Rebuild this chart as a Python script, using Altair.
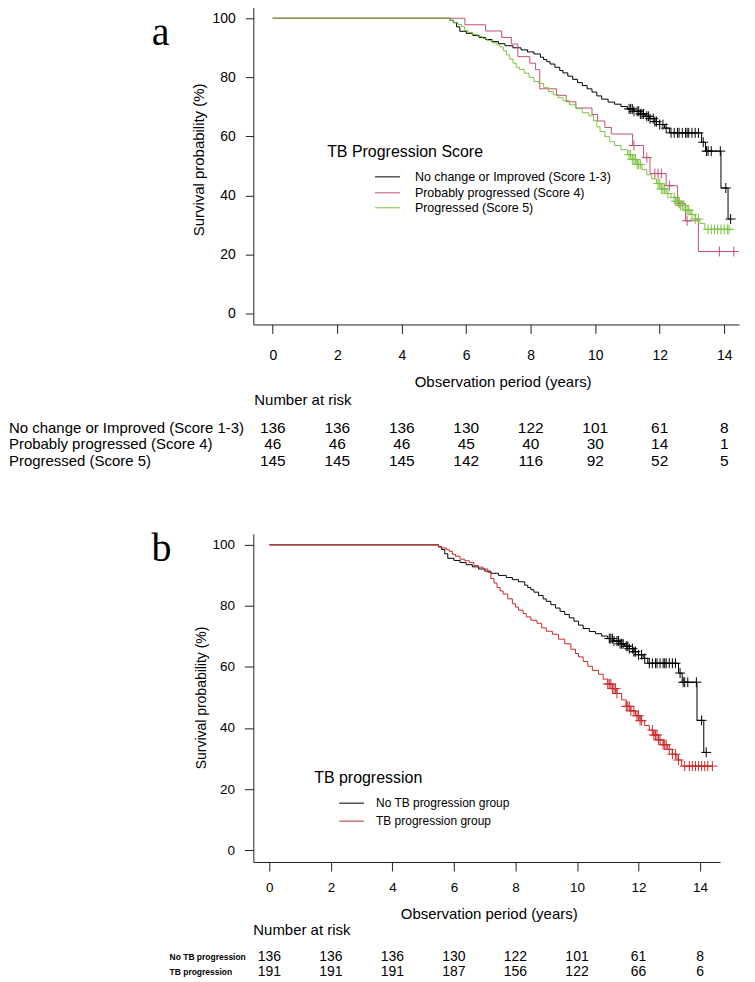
import altair as alt
import pandas as pd

FONT = "Liberation Sans"
SERIF = "Liberation Serif"

TIMES = [0, 2, 4, 6, 8, 10, 12, 14]
Y_TICKS = [0, 20, 40, 60, 80, 100]

GROUPS_A = ["No change or Improved (Score 1-3)", "Probably progressed (Score 4)", "Progressed (Score 5)"]
COLORS_A = ["#000000", "#C4506E", "#7CC243"]
GROUPS_B = ["No TB progression group", "TB progression group"]
COLORS_B = ["#000000", "#CC2B2B"]

# ---- Kaplan-Meier step curves (time in years, survival %) ----
BLACK_T = [0, 5.5, 5.6, 5.7, 5.8, 6.0, 6.2, 6.4, 6.6, 6.8, 7.0, 7.2, 7.45, 7.7, 7.9, 8.1, 8.3, 8.4, 8.5, 8.6,
           8.75, 8.9, 9.0, 9.15, 9.3, 9.45, 9.6, 9.75, 9.9, 10.05, 10.2, 10.4, 10.6, 10.8, 11.0, 11.2, 11.4,
           11.55, 11.7, 11.85, 12.0, 12.15, 12.3, 13.3, 13.42, 13.9, 14.12, 14.2]
BLACK_S = [100, 99.3, 98.5, 97.1, 95.6, 94.9, 94.2, 93.5, 92.8, 92.1, 91.4, 90.7, 90.0, 89.3, 88.6, 87.9, 86.8,
           86.0, 85.3, 84.5, 83.4, 82.3, 81.5, 80.4, 79.3, 78.2, 77.2, 76.1, 75.0, 73.7, 72.6, 71.6, 70.9, 70.1,
           69.3, 68.5, 67.6, 66.8, 66.0, 65.0, 64.0, 62.8, 61.2, 58.0, 55.0, 42.5, 32.0, 32.0]
BLACK_CENSOR = [11.05, 11.1, 11.15, 11.2, 11.3, 11.35, 11.4, 11.45, 11.5, 11.6, 11.65, 11.7, 11.8, 11.85, 11.9,
                12.0, 12.1, 12.2, 12.35, 12.45, 12.55, 12.6, 12.7, 12.8, 12.85, 12.9, 13.0, 13.1, 13.2, 13.35,
                13.45, 13.5, 13.6, 13.88, 14.05, 14.2]

PINK_T = [0, 5.96, 6.6, 7.1, 7.4, 7.6, 7.97, 8.15, 8.28, 8.8, 9.1, 9.4, 9.9, 10.07, 10.3, 10.5, 11.16, 11.5,
          11.7, 12.2, 12.55, 12.8, 13.2, 14.3]
PINK_S = [100, 97.8, 95.7, 93.5, 91.3, 87.0, 84.8, 82.6, 76.1, 73.9, 71.7, 69.6, 67.4, 65.2, 63.0, 60.8, 56.9,
          52.8, 47.4, 43.3, 37.3, 31.4, 21.0, 21.0]
PINK_CENSOR = [11.2, 11.6, 11.85, 11.95, 12.05, 12.3, 12.6, 12.85, 13.85, 14.3]

GREEN_T = [0, 5.5, 5.6, 5.75, 5.85, 5.95, 6.05, 6.2, 6.35, 6.5, 6.65, 6.8, 6.95, 7.05, 7.15, 7.25, 7.35, 7.45,
           7.55, 7.65, 7.8, 7.95, 8.1, 8.25, 8.4, 8.55, 8.7, 8.85, 9.0, 9.2, 9.4, 9.6, 9.8, 9.95, 10.05, 10.15,
           10.3, 10.45, 10.6, 10.8, 11.0, 11.15, 11.3, 11.45, 11.6, 11.75, 11.9, 12.05, 12.2, 12.35, 12.5,
           12.65, 12.8, 12.95, 13.1, 13.25, 13.4, 14.15]
GREEN_S = [100, 99.3, 98.6, 97.9, 97.2, 95.9, 95.2, 94.5, 93.8, 93.1, 92.4, 91.7, 91.0, 90.3, 89.0, 87.6, 86.2,
           84.8, 83.4, 82.7, 81.4, 80.0, 78.6, 77.9, 76.5, 75.2, 74.1, 73.1, 72.1, 70.7, 69.4, 68.0, 67.0, 65.3,
           63.2, 61.6, 59.9, 58.2, 56.9, 55.5, 53.8, 52.2, 50.5, 48.8, 47.0, 45.6, 44.0, 42.2, 40.6, 39.3, 38.0,
           36.6, 35.0, 33.5, 32.0, 30.5, 28.5, 28.5]
GREEN_CENSOR = [11.05, 11.1, 11.15, 11.2, 11.25, 11.3, 11.35, 11.4, 11.95, 12.0, 12.05, 12.1, 12.15, 12.25,
                12.45, 12.5, 12.55, 12.6, 12.65, 12.7, 12.75, 12.85, 12.9, 13.0, 13.1, 13.2, 13.5, 13.6, 13.7,
                13.8, 13.9, 14.0, 14.1, 14.15]

RED_T = [0, 5.5, 5.6, 5.75, 5.85, 5.95, 6.05, 6.2, 6.35, 6.5, 6.65, 6.8, 6.95, 7.1, 7.2, 7.3, 7.4, 7.5, 7.6,
         7.75, 7.9, 8.0, 8.1, 8.25, 8.35, 8.5, 8.7, 8.85, 9.0, 9.2, 9.4, 9.6, 9.8, 9.95, 10.05, 10.2, 10.35,
         10.5, 10.7, 10.85, 11.0, 11.15, 11.3, 11.45, 11.6, 11.75, 11.9, 12.05, 12.2, 12.35, 12.5, 12.65, 12.8,
         12.95, 13.1, 13.25, 13.4, 14.4]
RED_S = [100, 99.5, 99.0, 98.4, 97.9, 96.9, 96.3, 95.3, 94.8, 94.2, 93.2, 92.7, 92.1, 91.0, 89.0, 87.5, 86.0,
         84.9, 83.9, 82.3, 80.7, 79.6, 78.6, 77.5, 76.4, 75.3, 74.3, 72.8, 71.7, 70.7, 69.1, 67.6, 65.8, 64.4,
         63.3, 61.8, 60.2, 58.9, 57.6, 56.0, 54.4, 52.9, 51.3, 49.2, 47.1, 45.6, 44.0, 42.4, 40.8, 39.3, 37.7,
         36.1, 34.5, 33.0, 31.4, 29.5, 27.5, 27.5]
RED_CENSOR = [11.0, 11.05, 11.1, 11.15, 11.2, 11.25, 11.3, 11.6, 11.65, 11.7, 11.75, 11.85, 11.95, 12.0, 12.05,
              12.1, 12.45, 12.5, 12.55, 12.6, 12.65, 12.7, 12.8, 12.85, 12.9, 13.0, 13.1, 13.2, 13.3, 13.5,
              13.65, 13.75, 13.85, 13.95, 14.05, 14.15, 14.25, 14.4]

# ---- Number at risk ----
RISK_LABELS_A = ["No change or Improved (Score 1-3)", "Probably progressed (Score 4)", "Progressed (Score 5)"]
RISK_A_NOCHANGE = [136, 136, 136, 130, 122, 101, 61, 8]
RISK_A_PROBABLY = [46, 46, 46, 45, 40, 30, 14, 1]
RISK_A_PROGRESSED = [145, 145, 145, 142, 116, 92, 52, 5]
RISK_LABELS_B = ["No TB progression", "TB progression"]
RISK_B_NO = [136, 136, 136, 130, 122, 101, 61, 8]
RISK_B_TB = [191, 191, 191, 187, 156, 122, 66, 6]


def step_value(ts, ss, c):
    v = ss[0]
    for t, s in zip(ts, ss):
        if t <= c:
            v = s
        else:
            break
    return v


def curve_df(ts, ss, name):
    return pd.DataFrame({"t": ts, "s": ss, "g": name})


def censor_df(ts, ss, cs, name):
    return pd.DataFrame({"t": cs, "s": [step_value(ts, ss, c) for c in cs], "g": name})


AX = dict(grid=False, labelFont=FONT, titleFont=FONT, labelColor="#000", titleColor="#000",
          titleFontWeight="normal", tickColor="#222", domainColor="#222", tickWidth=1, domainWidth=1,
          labelFlush=False, labelOverlap=False)

one = pd.DataFrame({"k": [0]})
PLUS = "M-1,0L1,0M0,-1L0,1"


def text_layer(txt, x, y, size, align="left", font=FONT, weight="normal", baseline="middle"):
    return alt.Chart(one).mark_text(text=txt, font=font, fontSize=size, fontWeight=weight, align=align,
                                    baseline=baseline, color="#000").encode(x=alt.value(x), y=alt.value(y))


def panel(curves, censors, groups, colors, xdom, ydom, w, h, xaxis, yaxis, letter, letter_xy,
          leg_title, leg_title_xy, leg_line_x, leg_rows_y, leg_text_x, leg_size, leg_title_size,
          nar_xy, nar_size, row_labels, row_values, rows_y, row_label_x, row_label_size, row_label_weight,
          value_size):
    x = alt.X("t:Q", scale=alt.Scale(domain=xdom, nice=False, zero=False), axis=xaxis)
    y = alt.Y("s:Q", scale=alt.Scale(domain=ydom, nice=False, zero=False), axis=yaxis)
    color = alt.Color("g:N", scale=alt.Scale(domain=groups, range=colors), legend=None)
    lines = alt.Chart(curves).mark_line(interpolate="step-after", strokeWidth=1).encode(x=x, y=y, color=color)
    marks = alt.Chart(censors).mark_point(shape=PLUS, filled=False, size=100, strokeWidth=1, opacity=1).encode(
        x=x, y=y, color=color)
    layers = [lines, marks]
    layers.append(text_layer(letter, letter_xy[0], letter_xy[1], 40, align="center", font=SERIF,
                             baseline="alphabetic"))
    layers.append(text_layer(leg_title, leg_title_xy[0], leg_title_xy[1], leg_title_size))
    for g, c, ry in zip(groups, colors, leg_rows_y):
        layers.append(alt.Chart(one).mark_rule(color=c, strokeWidth=1).encode(
            x=alt.value(leg_line_x[0]), x2=alt.value(leg_line_x[1]), y=alt.value(ry)))
        layers.append(text_layer(g, leg_text_x, ry, leg_size))
    layers.append(text_layer("Number at risk", nar_xy[0], nar_xy[1], nar_size))
    for lab, vals, ry in zip(row_labels, row_values, rows_y):
        layers.append(text_layer(lab, row_label_x, ry, row_label_size, weight=row_label_weight))
        df = pd.DataFrame({"t": TIMES, "n": vals})
        layers.append(alt.Chart(df).mark_text(font=FONT, fontSize=value_size, align="center",
                                              baseline="middle", color="#000").encode(
            x=x, y=alt.value(ry), text="n:Q"))
    return alt.layer(*layers).properties(width=w, height=h)


# ---------------- panel a ----------------
curves_a = pd.concat([curve_df(BLACK_T, BLACK_S, GROUPS_A[0]), curve_df(PINK_T, PINK_S, GROUPS_A[1]),
                      curve_df(GREEN_T, GREEN_S, GROUPS_A[2])])
censors_a = pd.concat([censor_df(BLACK_T, BLACK_S, BLACK_CENSOR, GROUPS_A[0]),
                       censor_df(PINK_T, PINK_S, PINK_CENSOR, GROUPS_A[1]),
                       censor_df(GREEN_T, GREEN_S, GREEN_CENSOR, GROUPS_A[2])])
xaxis_a = alt.Axis(values=TIMES, format="d", title="Observation period (years)", titleX=250, titleY=57,
                   titleBaseline="middle", titleAlign="center", titleFontSize=15, labelFontSize=14,
                   labelPadding=15, tickSize=9, **AX)
yaxis_a = alt.Axis(values=Y_TICKS, title="Survival probability (%)", titleX=-55, titleY=153.5,
                   titleBaseline="middle", titleAlign="center", titleAngle=270, titleFontSize=15,
                   labelFontSize=14, labelPadding=10, tickSize=8, **AX)
panel_a = panel(curves_a, censors_a, GROUPS_A, COLORS_A, [-0.603, 14.46], [-3.72, 104.05], 487, 319,
                xaxis_a, yaxis_a, "a", (-93, 39),
                "TB Progression Score", (74, 146), (122, 147), [171, 187, 202], 162, 12.5, 16,
                (1, 395), 15, RISK_LABELS_A, [RISK_A_NOCHANGE, RISK_A_PROBABLY, RISK_A_PROGRESSED],
                [423, 439, 456], -245, 15, "normal", 15.5)

# ---------------- panel b ----------------
curves_b = pd.concat([curve_df(BLACK_T, BLACK_S, GROUPS_B[0]), curve_df(RED_T, RED_S, GROUPS_B[1])])
censors_b = pd.concat([censor_df(BLACK_T, BLACK_S, BLACK_CENSOR, GROUPS_B[0]),
                       censor_df(RED_T, RED_S, RED_CENSOR, GROUPS_B[1])])
xaxis_b = alt.Axis(values=TIMES, format="d", title="Observation period (years)", titleX=236, titleY=52,
                   titleBaseline="middle", titleAlign="center", titleFontSize=15, labelFontSize=13.5,
                   labelPadding=10, tickSize=9, **AX)
yaxis_b = alt.Axis(values=Y_TICKS, title="Survival probability (%)", titleX=-52, titleY=164,
                   titleBaseline="middle", titleAlign="center", titleAngle=270, titleFontSize=14,
                   labelFontSize=13.5, labelPadding=10, tickSize=9, **AX)
panel_b = panel(curves_b, censors_b, GROUPS_B, COLORS_B, [-0.52, 14.65], [-3.92, 103.6], 468, 329,
                xaxis_b, yaxis_b, "b", (-92, 27),
                "TB progression", (61, 245), (86, 111), [270, 288], 123, 12, 16,
                (0, 397), 15, RISK_LABELS_B, [RISK_B_NO, RISK_B_TB],
                [424, 439], -84, 8.5, "bold", 14)

chart = alt.VConcatChart(vconcat=[panel_a, panel_b], spacing=210, bounds="flush").resolve_scale(
    x="independent", y="independent", color="independent").properties(
    padding={"left": 0, "top": -4, "right": 5, "bottom": 2}).configure_view(stroke="transparent")

chart.save("out.html", embed_options={"renderer": "svg", "actions": False})
